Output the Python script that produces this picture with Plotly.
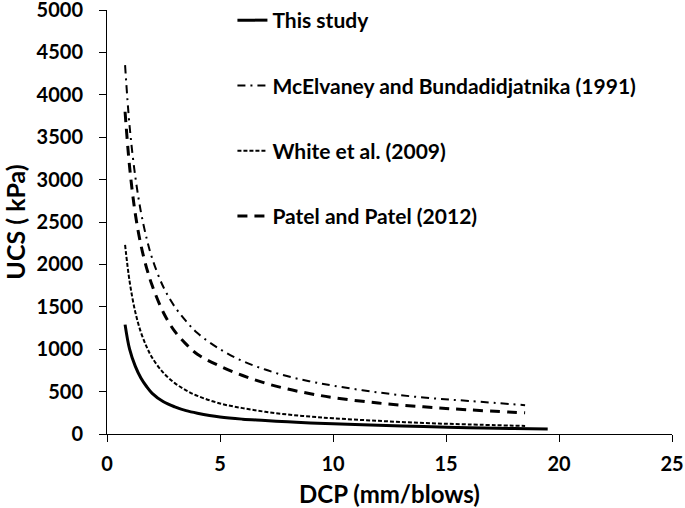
import plotly.graph_objects as go

# DCP (mm/blows) sample positions
dcp = [0.8, 1, 1.25, 1.5, 1.75, 2, 2.5, 3, 3.5, 4, 5, 6, 7, 8, 9, 10, 12, 14, 16, 18.5]
dcp_study = [0.8, 1, 1.25, 1.5, 1.75, 2, 2.5, 3, 3.5, 4, 5, 6, 7, 8, 9, 10, 12, 14, 16, 18, 19.5]

# UCS (kPa)
ucs_study = [1290, 1000, 800, 660, 560, 480, 380, 320, 275, 245, 200, 175, 160, 143, 130, 120, 103, 88, 75, 65, 58]
ucs_mcelvaney = [4350, 3630, 3040, 2620, 2310, 2070, 1730, 1500, 1330, 1190, 1000, 860, 760, 680, 620, 570, 490, 430, 390, 340]
ucs_white = [2230, 1800, 1440, 1200, 1030, 900, 720, 600, 515, 450, 360, 305, 262, 230, 205, 185, 155, 130, 113, 95]
ucs_patel = [3800, 3150, 2600, 2230, 1960, 1750, 1430, 1210, 1060, 940, 800, 690, 600, 530, 475, 430, 365, 320, 285, 250]

names = ["This study", "McElvaney and Bundadidjatnika (1991)", "White et al. (2009)", "Patel and Patel (2012)"]

FONT = "Lato"

fig = go.Figure()
fig.add_trace(go.Scatter(x=dcp_study, y=ucs_study, mode="lines", name=names[0], legendgroup="a",
                         line=dict(color="black", width=3, shape="spline")))
fig.add_trace(go.Scatter(x=dcp, y=ucs_mcelvaney, mode="lines", name=names[1], legendgroup="b",
                         line=dict(color="black", width=2, dash="8px,5px,2px,5px", shape="spline")))
fig.add_trace(go.Scatter(x=dcp, y=ucs_white, mode="lines", name=names[2], legendgroup="c",
                         line=dict(color="black", width=2, dash="4px,2px", shape="spline")))
fig.add_trace(go.Scatter(x=dcp, y=ucs_patel, mode="lines", name=names[3], legendgroup="d",
                         line=dict(color="black", width=3, dash="10px,7px", shape="spline")))

fig.update_layout(
    width=685, height=508,
    margin=dict(l=107, r=13, t=0, b=74),
    paper_bgcolor="white", plot_bgcolor="white",
    font=dict(family=FONT, color="black"),
    showlegend=True,
    legend=dict(x=0.222, y=1.0, xanchor="left", yanchor="top",
                font=dict(family=FONT, size=21, weight="bold", color="black"),
                tracegroupgap=35, bgcolor="rgba(0,0,0,0)", itemwidth=30),
)
fig.update_xaxes(range=[0, 25], dtick=5, tick0=0, ticks="outside", ticklen=7, tickcolor="black",
                 showline=True, linecolor="black", linewidth=1, showgrid=False, zeroline=False,
                 automargin=False, ticklabelstandoff=5, ticklabeloverflow="allow",
                 tickfont=dict(family=FONT, size=20, weight="bold", color="black"),
                 title=dict(text="DCP (mm/blows)", font=dict(family=FONT, size=24, weight="bold", color="black"),
                            standoff=13))
fig.update_yaxes(range=[0, 5000], dtick=500, tick0=0, ticks="outside", ticklen=7, tickcolor="black",
                 showline=True, linecolor="black", linewidth=1, showgrid=False, zeroline=False,
                 automargin=False, ticklabelstandoff=12, domain=[0, 424 / 434], ticklabeloverflow="allow",
                 tickfont=dict(family=FONT, size=20, weight="bold", color="black"),
                 title=dict(text="UCS ( kPa)", font=dict(family=FONT, size=25, weight="bold", color="black"),
                            standoff=5))

fig.write_html("out.html", config={"displayModeBar": False},
               post_script="document.body.style.margin='0';")
